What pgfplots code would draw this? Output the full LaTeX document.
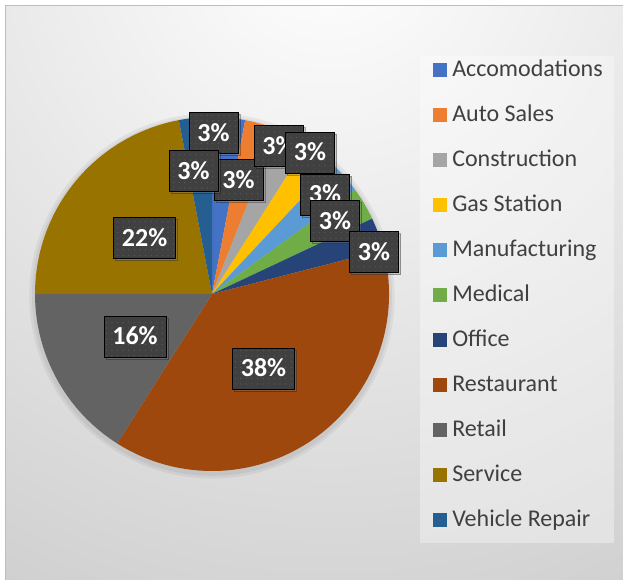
\documentclass[border=0pt]{standalone}
\usepackage{pgfplots}
\usepackage{pgfplotstable}
\pgfplotsset{compat=1.18}
\usetikzlibrary{shadows,patterns.meta}
\usepackage{fontspec}
\setmainfont{Carlito}

\definecolor{cAcc}{HTML}{4472C4}
\definecolor{cAuto}{HTML}{ED7D31}
\definecolor{cCons}{HTML}{A5A5A5}
\definecolor{cGas}{HTML}{FFC000}
\definecolor{cMan}{HTML}{5B9BD5}
\definecolor{cMed}{HTML}{70AD47}
\definecolor{cOff}{HTML}{264478}
\definecolor{cRest}{HTML}{9E480E}
\definecolor{cRet}{HTML}{636363}
\definecolor{cServ}{HTML}{997300}
\definecolor{cVeh}{HTML}{255E91}
\definecolor{lblbg}{HTML}{404040}
\definecolor{lbldot}{HTML}{5A5A5A}
\definecolor{legtext}{HTML}{404040}
\definecolor{bgout}{HTML}{C4C4C4}
\definecolor{bordc}{HTML}{BDBDBD}

% sector, share (%), colour, label centre in pie radii
\pgfplotstableread[col sep=comma]{
sector,value,colour,lx,ly
Accomodations,3,cAcc,0.008,0.910
Auto Sales,3,cAuto,0.150,0.644
Construction,3,cCons,0.376,0.836
Gas Station,3,cGas,0.554,0.799
Manufacturing,3,cMan,0.638,0.562
Medical,3,cMed,0.695,0.412
Office,3,cOff,0.915,0.237
Restaurant,38,cRest,0.291,-0.421
Retail,16,cRet,-0.435,-0.240
Service,22,cServ,-0.381,0.316
Vehicle Repair,3,cVeh,-0.105,0.695
}\piedata

\begin{document}
\begin{tikzpicture}[x=0.75pt,y=0.75pt]
\useasboundingbox (0,0) rectangle (623,580);
% chart area
\begin{scope}
  \clip (5,0) rectangle (623,574);
  \shade[inner color=white, outer color=bgout] (330,640) circle[radius=900];
\end{scope}
\draw[bordc, line width=0.75pt] (5,-5) -- (5,574) -- (630,574);
\fill[white, opacity=0.35] (420,37) rectangle (614,524);

\coordinate (pc) at (212,286);
\pgfplotstablegetrowsof{\piedata}
\pgfmathtruncatemacro\lastrow{\pgfplotsretval-1}

\begin{axis}[
    at={(pc)}, anchor=center,
    scale only axis, width=265.5pt, height=265.5pt,
    xmin=-1, xmax=1, ymin=-1, ymax=1,
    hide axis, clip=false,
    /pgf/number format/assume math mode=true,
    legend image code/.code={\fill[#1] (0pt,-5.25pt) rectangle (10.5pt,5.25pt);},
    legend style={at={(axis description cs:1.1243,1.1647)}, anchor=north west,
        draw=none, fill=none,
        inner sep=0pt, row sep=16.75pt,
        font=\fontsize{18}{21.6}\selectfont, text=legtext,
        nodes={inner sep=0pt, text height=13pt, text depth=4pt},
        cells={anchor=west},
        /tikz/every odd column/.append style={column sep=3.75pt}},
]
% soft shadow under the pie
\fill[black, opacity=0.05] (axis cs:0,-0.01) circle[radius=137pt];
\fill[black, opacity=0.05] (axis cs:0,-0.01) circle[radius=135pt];

% wedges, clockwise from 12 o'clock
\def\cum{0}
\pgfplotsforeachungrouped \i in {0,...,\lastrow}{%
  \pgfplotstablegetelem{\i}{value}\of\piedata \let\val\pgfplotsretval
  \pgfplotstablegetelem{\i}{colour}\of\piedata \let\col\pgfplotsretval
  \pgfmathsetmacro\angA{90-3.6*\cum}
  \pgfmathsetmacro\angB{90-3.6*(\cum+\val)}
  \edef\slicepath{\noexpand\fill[\col] (axis cs:0,0) -- ++(\angA:132.75pt)
    arc[start angle=\angA, end angle=\angB, radius=132.75pt] -- cycle;}
  \slicepath
  \pgfmathsetmacro\cum{\cum+\val}
}

% legend entries
\pgfplotsforeachungrouped \i in {0,...,\lastrow}{%
  \pgfplotstablegetelem{\i}{colour}\of\piedata \let\col\pgfplotsretval
  \pgfplotstablegetelem{\i}{sector}\of\piedata \let\nm\pgfplotsretval
  \edef\entry{\noexpand\addlegendimage{fill=\col, draw=none}\noexpand\addlegendentry{\nm}}
  \entry
}

% data labels
\addplot[forget plot, only marks, mark=*, mark size=0pt,
    point meta=explicit,
    nodes near coords={\pgfmathprintnumber{\pgfplotspointmeta}\%},
    every node near coord/.append style={anchor=center, fill=lblbg, text=white,
        font=\bfseries\fontsize{19.5}{23}\selectfont,
        inner xsep=6.4pt, inner ysep=9.1pt, text height=12.5pt, text depth=0pt,
        drop shadow={shadow xshift=1.5pt, shadow yshift=-1.5pt, opacity=0.3},
        postaction={pattern={Dots[distance=4.2pt,radius=0.5pt]}, pattern color=lbldot}},
] table[x=lx, y=ly, meta=value] {\piedata};
\end{axis}
\end{tikzpicture}
\end{document}
